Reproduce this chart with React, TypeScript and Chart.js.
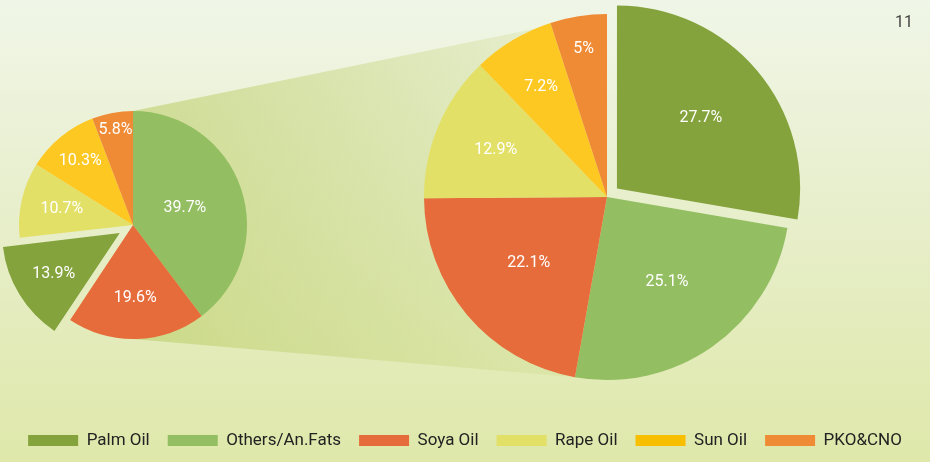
import React, { useEffect, useRef } from "react";
import { Chart, registerables } from "chart.js";

Chart.register(...registerables);

// ---------- data ----------
const categories = ["Palm Oil", "Others/An.Fats", "Soya Oil", "Rape Oil", "Sun Oil", "PKO&CNO"];
const smallPieLabels = ["Others/An.Fats", "Soya Oil", "Palm Oil", "Rape Oil", "Sun Oil", "PKO&CNO"];
const smallPieValues = [39.7, 19.6, 13.9, 10.7, 10.3, 5.8];
const bigPieLabels = ["Palm Oil", "Others/An.Fats", "Soya Oil", "Rape Oil", "Sun Oil", "PKO&CNO"];
const bigPieValues = [27.7, 25.1, 22.1, 12.9, 7.2, 5];
const pageNumber = "11";

// ---------- style ----------
const sliceColors: Record<string, string> = {
  "Palm Oil": "#84a33c",
  "Others/An.Fats": "#93bf62",
  "Soya Oil": "#e66d3b",
  "Rape Oil": "#e3e067",
  "Sun Oil": "#fec823",
  "PKO&CNO": "#ef8b35",
};
const legendColors: Record<string, string> = {
  "Palm Oil": "#84a33c",
  "Others/An.Fats": "#93bf62",
  "Soya Oil": "#e66d3b",
  "Rape Oil": "#e3e067",
  "Sun Oil": "#f8be00",
  "PKO&CNO": "#ef8b35",
};
const FONT = "Roboto, 'DejaVu Sans', sans-serif";
const SMALL = { cx: 133, cy: 225, r: 114, box: 280 };
const BIG = { cx: 607, cy: 197, r: 183, box: 400 };
const smallOffsets = [0, 0, 62, 0, 0, 0];
const bigOffsets = [52, 0, 0, 0, 0, 0];
const smallLabelPos = [0.48, 0.64, 0.68, 0.64, 0.73, 0.85];
const bigLabelPos = [0.6, 0.57, 0.56, 0.66, 0.7, 0.82];

function sliceLabelPlugin(factors: number[]) {
  return {
    id: "sliceLabels",
    afterDatasetsDraw(chart: any) {
      const ctx = chart.ctx;
      const meta = chart.getDatasetMeta(0);
      const data = chart.data.datasets[0].data;
      ctx.save();
      ctx.fillStyle = "#ffffff";
      ctx.font = `16px ${FONT}`;
      ctx.textAlign = "center";
      ctx.textBaseline = "middle";
      meta.data.forEach((arc: any, i: number) => {
        const p = arc.getProps(["x", "y", "startAngle", "endAngle", "outerRadius"], true);
        const mid = (p.startAngle + p.endAngle) / 2;
        const shift = (arc.options.offset || 0) / 4;
        const rr = shift + p.outerRadius * factors[i];
        ctx.fillText(`${data[i]}%`, p.x + Math.cos(mid) * rr, p.y + Math.sin(mid) * rr);
      });
      ctx.restore();
    },
  };
}

const backgroundPlugin = {
  id: "pageBackground",
  beforeDraw(chart: any) {
    const { ctx, width, height } = chart;
    ctx.save();
    const g = ctx.createLinearGradient(0, 0, 0, height);
    g.addColorStop(0, "#f0f6e7");
    g.addColorStop(0.5, "#e7eec9");
    g.addColorStop(1, "#dfe8aa");
    ctx.fillStyle = g;
    ctx.fillRect(0, 0, width, height);

    // connecting band between the two pies
    const tg = ctx.createLinearGradient(SMALL.cx, 0, BIG.cx, 0);
    tg.addColorStop(0, "rgba(188,206,105,0.6)");
    tg.addColorStop(1, "rgba(188,206,105,0.12)");
    ctx.fillStyle = tg;
    ctx.beginPath();
    ctx.moveTo(SMALL.cx, SMALL.cy - SMALL.r);
    ctx.lineTo(BIG.cx, BIG.cy - BIG.r);
    ctx.lineTo(BIG.cx, BIG.cy + BIG.r);
    ctx.lineTo(SMALL.cx, SMALL.cy + SMALL.r);
    ctx.closePath();
    ctx.fill();

    ctx.fillStyle = "#444";
    ctx.font = `16px ${FONT}`;
    ctx.textAlign = "right";
    ctx.textBaseline = "alphabetic";
    ctx.fillText(pageNumber, 913, 27);
    ctx.restore();
  },
};

export default function App() {
  const bgRef = useRef<HTMLCanvasElement>(null);
  const smallRef = useRef<HTMLCanvasElement>(null);
  const bigRef = useRef<HTMLCanvasElement>(null);

  useEffect(() => {
    const bg = new Chart(bgRef.current!, {
      type: "bar",
      data: {
        labels: [],
        datasets: categories.map((c) => ({
          label: c,
          data: [],
          backgroundColor: legendColors[c],
          borderWidth: 0,
        })),
      },
      options: {
        animation: false,
        responsive: false,
        layout: { padding: { bottom: 3 } },
        scales: { x: { display: false }, y: { display: false } },
        plugins: {
          tooltip: { enabled: false },
          legend: {
            position: "bottom",
            labels: {
              boxWidth: 50,
              boxHeight: 11,
              padding: 18,
              color: "#222",
              font: { family: FONT, size: 17 },
            },
          },
        },
      },
      plugins: [backgroundPlugin],
    });

    const small = new Chart(smallRef.current!, {
      type: "pie",
      data: {
        labels: smallPieLabels,
        datasets: [
          {
            data: smallPieValues,
            backgroundColor: smallPieLabels.map((l) => sliceColors[l]),
            borderWidth: 0,
            offset: smallOffsets,
          },
        ],
      },
      options: {
        animation: false,
        responsive: false,
        radius: SMALL.r,
        plugins: { legend: { display: false }, tooltip: { enabled: false } },
      },
      plugins: [sliceLabelPlugin(smallLabelPos)],
    });

    const big = new Chart(bigRef.current!, {
      type: "pie",
      data: {
        labels: bigPieLabels,
        datasets: [
          {
            data: bigPieValues,
            backgroundColor: bigPieLabels.map((l) => sliceColors[l]),
            borderWidth: 0,
            offset: bigOffsets,
          },
        ],
      },
      options: {
        animation: false,
        responsive: false,
        radius: BIG.r,
        plugins: { legend: { display: false }, tooltip: { enabled: false } },
      },
      plugins: [sliceLabelPlugin(bigLabelPos)],
    });

    return () => {
      bg.destroy();
      small.destroy();
      big.destroy();
    };
  }, []);

  return (
    <div
      style={{
        position: "fixed",
        left: 0,
        top: 0,
        width: 930,
        height: 462,
        overflow: "hidden",
      }}
    >
      <canvas ref={bgRef} width={930} height={462} style={{ position: "absolute", left: 0, top: 0 }} />
      <canvas
        ref={smallRef}
        width={SMALL.box}
        height={SMALL.box}
        style={{ position: "absolute", left: SMALL.cx - SMALL.box / 2, top: SMALL.cy - SMALL.box / 2 }}
      />
      <canvas
        ref={bigRef}
        width={BIG.box}
        height={BIG.box}
        style={{ position: "absolute", left: BIG.cx - BIG.box / 2, top: BIG.cy - BIG.box / 2 }}
      />
    </div>
  );
}
